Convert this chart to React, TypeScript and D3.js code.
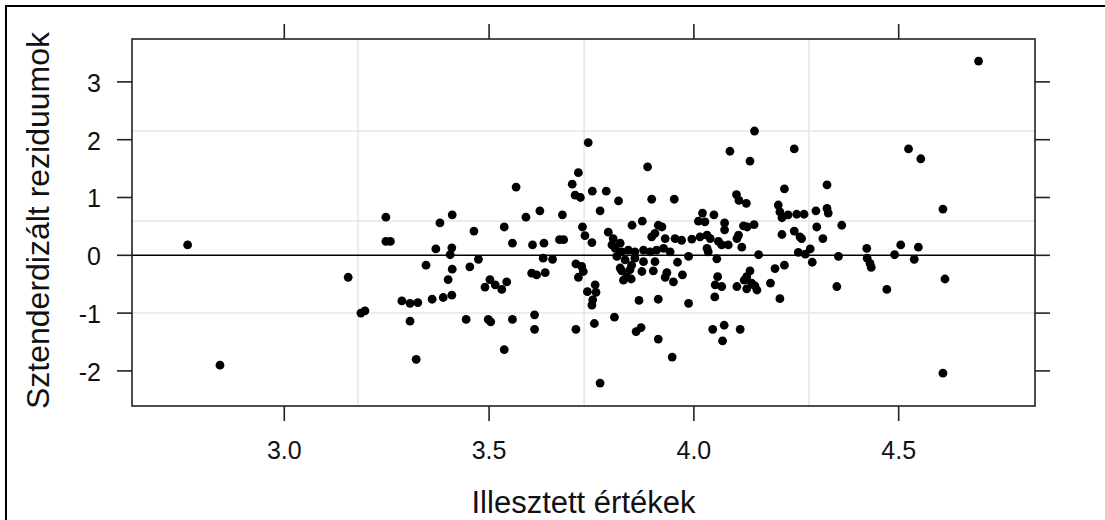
import React from "react";
import * as d3 from "d3";

// Fitted values (x) and standardized residuals (y), one entry per observation
const fitted = [
  2.764, 2.843, 3.156, 3.187, 3.197, 3.248, 3.248, 3.259, 3.287, 3.307, 3.326, 3.307, 3.322,
  3.346, 3.37, 3.38, 3.4, 3.405, 3.409, 3.41, 3.41, 3.361, 3.388, 3.409, 3.444, 3.453, 3.463,
  3.474, 3.49, 3.502, 3.515, 3.531, 3.543, 3.498, 3.504, 3.537, 3.537, 3.557, 3.557, 3.566,
  3.59, 3.604, 3.616, 3.637, 3.606, 3.611, 3.611, 3.624, 3.632, 3.634, 3.655,
  3.672, 3.682, 3.679, 3.703, 3.71, 3.723, 3.718, 3.742, 3.752, 3.786, 3.816, 3.771, 3.728,
  3.734, 3.751, 3.712, 3.726, 3.73, 3.718, 3.74, 3.759, 3.761, 3.753, 3.751, 3.712, 3.757,
  3.771, 3.806, 3.791, 3.803, 3.8, 3.82, 3.849, 3.874,
  3.808, 3.824, 3.84, 3.856, 3.877, 3.893, 3.909, 3.812, 3.832, 3.856, 3.877, 3.905, 3.82,
  3.848, 3.926, 3.942,
  3.824, 3.844, 3.873, 3.836, 3.828, 3.847, 3.901, 3.934, 3.93, 3.95, 3.972, 3.866, 3.913,
  3.859, 3.871, 3.913, 3.947, 3.887, 3.897, 3.952, 3.913, 3.922, 3.905, 3.897, 3.93, 3.954,
  3.97, 3.96, 3.987, 3.987,
  4.221, 4.104, 4.11, 4.128, 4.206, 4.21, 4.215, 4.23, 4.251, 4.269, 4.298, 4.325, 4.328,
  4.3, 4.315, 4.361, 4.325, 4.245, 4.148, 4.088, 4.137,
  4.021, 4.049, 4.011, 4.027, 4.075, 4.075, 4.121, 4.147, 4.13, 3.995, 4.015, 4.032, 4.04,
  4.06, 4.068, 4.084, 4.105, 4.109, 4.032, 4.035, 4.117, 4.215, 4.245, 4.259, 4.263, 4.056,
  4.158, 4.255, 4.272, 4.284, 4.289,
  4.137, 4.129, 4.123, 4.141, 4.105, 4.129, 4.149, 4.154, 4.198, 4.221, 4.058, 4.052, 4.068,
  4.187, 4.051, 4.21, 4.046, 4.074, 4.113, 4.07, 4.349, 4.353, 4.422, 4.423, 4.43, 4.433,
  4.471, 4.505, 4.49, 4.548, 4.538, 4.613, 4.608, 4.608, 4.524, 4.554, 4.695,
];

const residuals = [
  0.18, -1.9, -0.38, -1.0, -0.96, 0.66, 0.24, 0.24, -0.79, -0.83, -0.82, -1.14, -1.8,
  -0.17, 0.11, 0.56, -0.42, 0.01, 0.13, 0.7, -0.24, -0.76, -0.73, -0.69, -1.11, -0.2, 0.42,
  -0.07, -0.55, -0.42, -0.51, -0.59, -0.46, -1.11, -1.15, 0.49, -1.63, 0.21, -1.11, 1.18,
  0.66, -0.31, -0.34, -0.3, 0.18, -1.03, -1.28, 0.77, -0.05, 0.21, -0.07,
  0.27, 0.27, 0.7, 1.23, 1.04, 1.0, 1.43, 1.95, 1.11, 1.11, 0.94, 0.77, 0.49,
  0.34, 0.22, -0.15, -0.19, -0.28, -0.38, -0.63, -0.51, -0.64, -0.77, -0.86, -1.28, -1.18,
  -2.21, -1.07, 0.4, 0.29, 0.18, 0.21, 0.52, 0.59,
  0.12, 0.06, 0.09, 0.06, 0.09, 0.06, 0.09, -0.02, -0.08, -0.05, -0.11, -0.11, -0.22,
  -0.17, 0.12, 0.06,
  -0.27, -0.25, -0.28, -0.37, -0.43, -0.41, -0.27, -0.3, -0.38, -0.46, -0.34, -0.78, -0.76,
  -1.32, -1.25, -1.45, -1.76, 1.53, 0.97, 0.97, 0.52, 0.49, 0.38, 0.32, 0.29, 0.29,
  0.26, -0.12, -0.02, -0.83,
  1.15, 1.05, 0.95, 0.9, 0.87, 0.75, 0.65, 0.7, 0.71, 0.71, 0.77, 0.81, 0.73,
  0.49, 0.29, 0.52, 1.22, 1.84, 2.15, 1.8, 1.63,
  0.73, 0.7, 0.59, 0.58, 0.56, 0.44, 0.51, 0.53, 0.49, 0.28, 0.32, 0.35, 0.29,
  0.24, 0.18, 0.18, 0.29, 0.35, 0.12, 0.06, 0.14, 0.36, 0.42, 0.32, 0.29, -0.06,
  0.01, 0.05, 0.02, 0.11, -0.12,
  -0.27, -0.37, -0.43, -0.48, -0.54, -0.58, -0.53, -0.6, -0.23, -0.17, -0.37, -0.51, -0.54,
  -0.48, -0.72, -0.75, -1.28, -1.21, -1.28, -1.48, -0.54, -0.02, 0.12, -0.05, -0.14, -0.21,
  -0.59, 0.18, 0.01, 0.14, -0.07, -0.41, 0.8, -2.04, 1.84, 1.67, 3.36,
];

const xTicks = [3.0, 3.5, 4.0, 4.5];
const yTicks = [-2, -1, 0, 1, 2, 3];
// reference grid lines inside the panel
const gridX = [3.18, 3.732, 4.281];
const gridY = [2.15, 0.593, -1.0];

const xTitle = "Illesztett értékek";
const yTitle = "Sztenderdizált reziduumok";

const FONT = "'Liberation Sans', Arial, Helvetica, sans-serif";

export default function App() {
  const W = 1105;
  const H = 520;
  const panel = { left: 132, right: 1035, top: 39, bottom: 406 };
  const tickLen = 15;

  const x = d3.scaleLinear().domain([2.6282, 4.8328]).range([panel.left, panel.right]);
  const y = d3.scaleLinear().domain([-2.607, 3.742]).range([panel.bottom, panel.top]);

  const points = fitted.map((f, i) => ({ f, r: residuals[i] }));
  const axisColor = "#222";

  return (
    <svg
      width={W}
      height={H}
      style={{ position: "absolute", left: 0, top: 0, background: "#fff" }}
      fontFamily={FONT}
    >
      {/* outer frame */}
      <rect x={6} y={6} width={1120} height={540} fill="none" stroke="#000" strokeWidth={2} />

      {/* grid */}
      <g stroke="#e6e6e6" strokeWidth={1.5}>
        {gridX.map((g) => (
          <line key={"gx" + g} x1={x(g)} x2={x(g)} y1={panel.top} y2={panel.bottom} />
        ))}
        {gridY.map((g) => (
          <line key={"gy" + g} x1={panel.left} x2={panel.right} y1={y(g)} y2={y(g)} />
        ))}
      </g>

      {/* zero reference line */}
      <line x1={panel.left} x2={panel.right} y1={y(0)} y2={y(0)} stroke="#000" strokeWidth={1.6} />

      {/* points */}
      <g fill="#000">
        {points.map((p, i) => (
          <circle key={i} cx={x(p.f)} cy={y(p.r)} r={4.4} />
        ))}
      </g>

      {/* panel border */}
      <rect
        x={panel.left}
        y={panel.top}
        width={panel.right - panel.left}
        height={panel.bottom - panel.top}
        fill="none"
        stroke={axisColor}
        strokeWidth={1.6}
      />

      {/* ticks on all four sides */}
      <g stroke={axisColor} strokeWidth={1.6}>
        {xTicks.map((t) => (
          <g key={"xt" + t}>
            <line x1={x(t)} x2={x(t)} y1={panel.bottom} y2={panel.bottom + tickLen} />
            <line x1={x(t)} x2={x(t)} y1={panel.top} y2={panel.top - tickLen} />
          </g>
        ))}
        {yTicks.map((t) => (
          <g key={"yt" + t}>
            <line x1={panel.left - tickLen} x2={panel.left} y1={y(t)} y2={y(t)} />
            <line x1={panel.right} x2={panel.right + tickLen} y1={y(t)} y2={y(t)} />
          </g>
        ))}
      </g>

      {/* tick labels */}
      <g fontSize={25} fill="#111">
        {xTicks.map((t) => (
          <text key={"xl" + t} x={x(t)} y={459} textAnchor="middle">
            {d3.format(".1f")(t)}
          </text>
        ))}
        {yTicks.map((t) => (
          <text key={"yl" + t} x={101} y={y(t) + 1} textAnchor="end" dominantBaseline="central">
            {t}
          </text>
        ))}
      </g>

      {/* axis titles */}
      <text
        x={(panel.left + panel.right) / 2}
        y={513}
        textAnchor="middle"
        fontSize={31}
        fill="#111"
      >
        {xTitle}
      </text>
      <text
        transform={`translate(49, ${(panel.top + panel.bottom) / 2 - 2}) rotate(-90)`}
        textAnchor="middle"
        fontSize={32}
        fill="#111"
      >
        {yTitle}
      </text>
    </svg>
  );
}
